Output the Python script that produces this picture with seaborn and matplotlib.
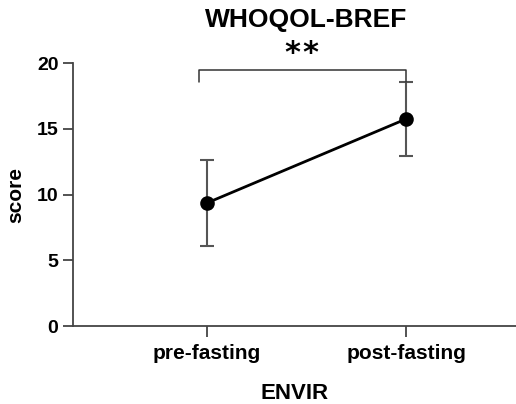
import numpy as np
import pandas as pd
import matplotlib
matplotlib.use("Agg")
import matplotlib.pyplot as plt
import seaborn as sns

# data
groups = ["pre-fasting", "post-fasting"]
means = [9.35, 15.75]
sds = [3.3, 2.8]
title = "WHOQOL-BREF"
sig_label = "*"

sns.set_theme(style="ticks")
plt.rcParams["font.family"] = ["Liberation Sans", "DejaVu Sans"]
plt.rcParams["font.weight"] = "bold"
plt.rcParams["text.color"] = "black"
plt.rcParams["axes.labelcolor"] = "black"
plt.rcParams["xtick.color"] = "#444444"
plt.rcParams["ytick.color"] = "#444444"
plt.rcParams["xtick.labelcolor"] = "black"
plt.rcParams["ytick.labelcolor"] = "black"

df = pd.DataFrame({"group": groups, "score": means})

fig = plt.figure(figsize=(5.16, 4.04), dpi=100)
ax = fig.add_axes([0.1415, 0.193, 0.8585, 0.651])

sns.pointplot(data=df, x="group", y="score", color="black", errorbar=None,
              markers="o", markersize=9, linewidth=2, ax=ax, zorder=3)
ax.errorbar(range(len(groups)), means, yerr=sds, fmt="none", ecolor="#555555",
            elinewidth=1.5, capsize=5, capthick=1.5, zorder=2)

# significance bracket
ax.plot([-0.04, -0.04, 1.0, 1.0], [18.55, 19.5, 19.5, 18.55], color="#333333",
        lw=1.1, clip_on=False)
for sx in [0.428, 0.517]:
    ax.text(sx, 20.75, sig_label, ha="center", va="center", fontsize=22,
            fontweight="bold", color="black", family="DejaVu Sans")

ax.set_xlim(-0.67, 1.55)
ax.set_ylim(0, 20)
ax.set_yticks([0, 5, 10, 15, 20])
ax.set_xlabel("ENVIR", fontsize=16, fontweight="bold", labelpad=14)
ax.set_ylabel("score", fontsize=15, fontweight="bold", labelpad=8)
ax.tick_params(axis="y", labelsize=14, length=7, width=1.3)
ax.tick_params(axis="x", labelsize=15, length=8, width=1.3, pad=5)
for lab in ax.get_xticklabels() + ax.get_yticklabels():
    lab.set_fontweight("bold")
for s in ["left", "bottom"]:
    ax.spines[s].set_color("#444444")
    ax.spines[s].set_linewidth(1.3)
sns.despine(ax=ax)

fig.text(0.593, 0.95, title, ha="center", va="center", fontsize=19,
         fontweight="bold")

fig.savefig("out.png", dpi=100)
